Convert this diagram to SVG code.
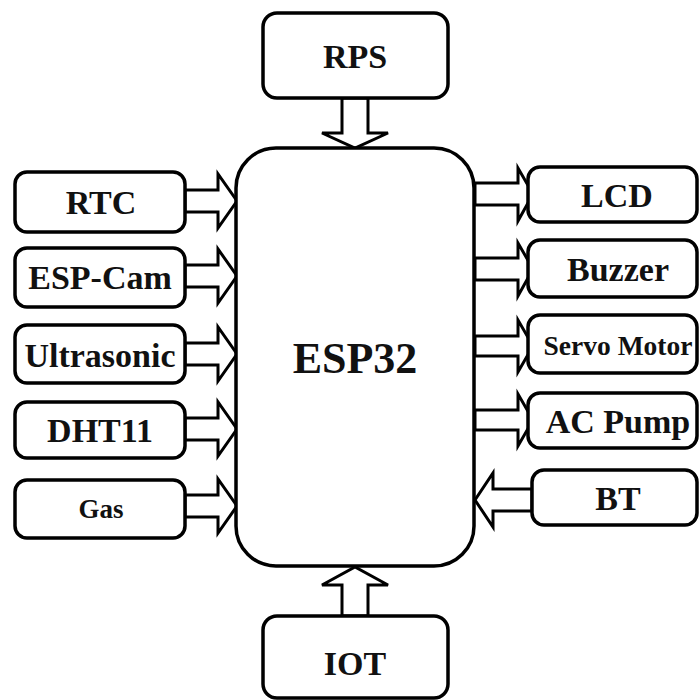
<svg xmlns="http://www.w3.org/2000/svg" width="699" height="700" viewBox="0 0 699 700">
<style>
.box{fill:#fff;stroke:#000;stroke-width:3.5}
.arr{fill:#fff;stroke:#000;stroke-width:3;stroke-linejoin:miter}
text{font-family:'Liberation Serif','Times New Roman',serif;font-weight:bold;fill:#111;text-anchor:middle}
.t{font-size:34px}
</style>
<rect width="699" height="700" fill="#fff"/>
<g id="connectors">
<polygon class="arr" points="342,98 368,98 368,133 388,133 355,148 322,133 342,133"/>
<polygon class="arr" points="342,616 368,616 368,585 388,585 355,567 322,585 342,585"/>
<polygon class="arr" points="185,190 218,190 218,174 237,201 218,228 218,212 185,212"/>
<polygon class="arr" points="185,265 218,265 218,249 237,276 218,303 218,287 185,287"/>
<polygon class="arr" points="185,343 218,343 218,327 237,354 218,381 218,365 185,365"/>
<polygon class="arr" points="185,418 218,418 218,402 237,429 218,456 218,440 185,440"/>
<polygon class="arr" points="185,495 218,495 218,479 237,506 218,533 218,517 185,517"/>
<polygon class="arr" points="475,183 518,183 518,168 533,194 518,221 518,205 475,205"/>
<polygon class="arr" points="475,258 518,258 518,243 533,269 518,296 518,280 475,280"/>
<polygon class="arr" points="475,336 518,336 518,320 533,346 518,372 518,356 475,356"/>
<polygon class="arr" points="475,410 518,410 518,394 533,420 518,446 518,430 475,430"/>
<polygon class="arr" points="532,489 493,489 493,473 475,500 493,527 493,511 532,511"/>
</g>
<g id="esp32"><rect class="box" x="236" y="148" width="238" height="418" rx="40"/><text x="355" y="373" style="font-size:44px">ESP32</text></g>
<g id="rps"><rect class="box" x="263" y="13" width="185" height="85" rx="14"/><text class="t" x="355" y="68">RPS</text></g>
<g id="iot"><rect class="box" x="263" y="616" width="185" height="82" rx="14"/><text class="t" x="355" y="675">IOT</text></g>
<g id="rtc"><rect class="box" x="15" y="172" width="170" height="60" rx="12"/><text class="t" x="101" y="214">RTC</text></g>
<g id="espcam"><rect class="box" x="15" y="248" width="170" height="59" rx="12"/><text class="t" x="100" y="289">ESP-Cam</text></g>
<g id="ultrasonic"><rect class="box" x="15" y="325" width="170" height="58" rx="12"/><text class="t" x="100" y="367">Ultrasonic</text></g>
<g id="dht11"><rect class="box" x="15" y="402" width="170" height="56" rx="12"/><text class="t" x="100" y="442">DHT11</text></g>
<g id="gas"><rect class="box" x="15" y="480" width="170" height="58" rx="12"/><text x="101" y="518" style="font-size:27px">Gas</text></g>
<g id="lcd"><rect class="box" x="528" y="167" width="169" height="55" rx="12"/><text class="t" x="617" y="207">LCD</text></g>
<g id="buzzer"><rect class="box" x="528" y="240" width="169" height="57" rx="12"/><text class="t" x="618" y="281">Buzzer</text></g>
<g id="servo"><rect class="box" x="528" y="315" width="169" height="58" rx="12"/><text x="618" y="355" style="font-size:27.5px">Servo Motor</text></g>
<g id="acpump"><rect class="box" x="528" y="393" width="169" height="55" rx="12"/><text class="t" x="618" y="433">AC Pump</text></g>
<g id="bt"><rect class="box" x="532" y="470" width="165" height="55" rx="12"/><text class="t" x="618" y="510">BT</text></g>
</svg>
